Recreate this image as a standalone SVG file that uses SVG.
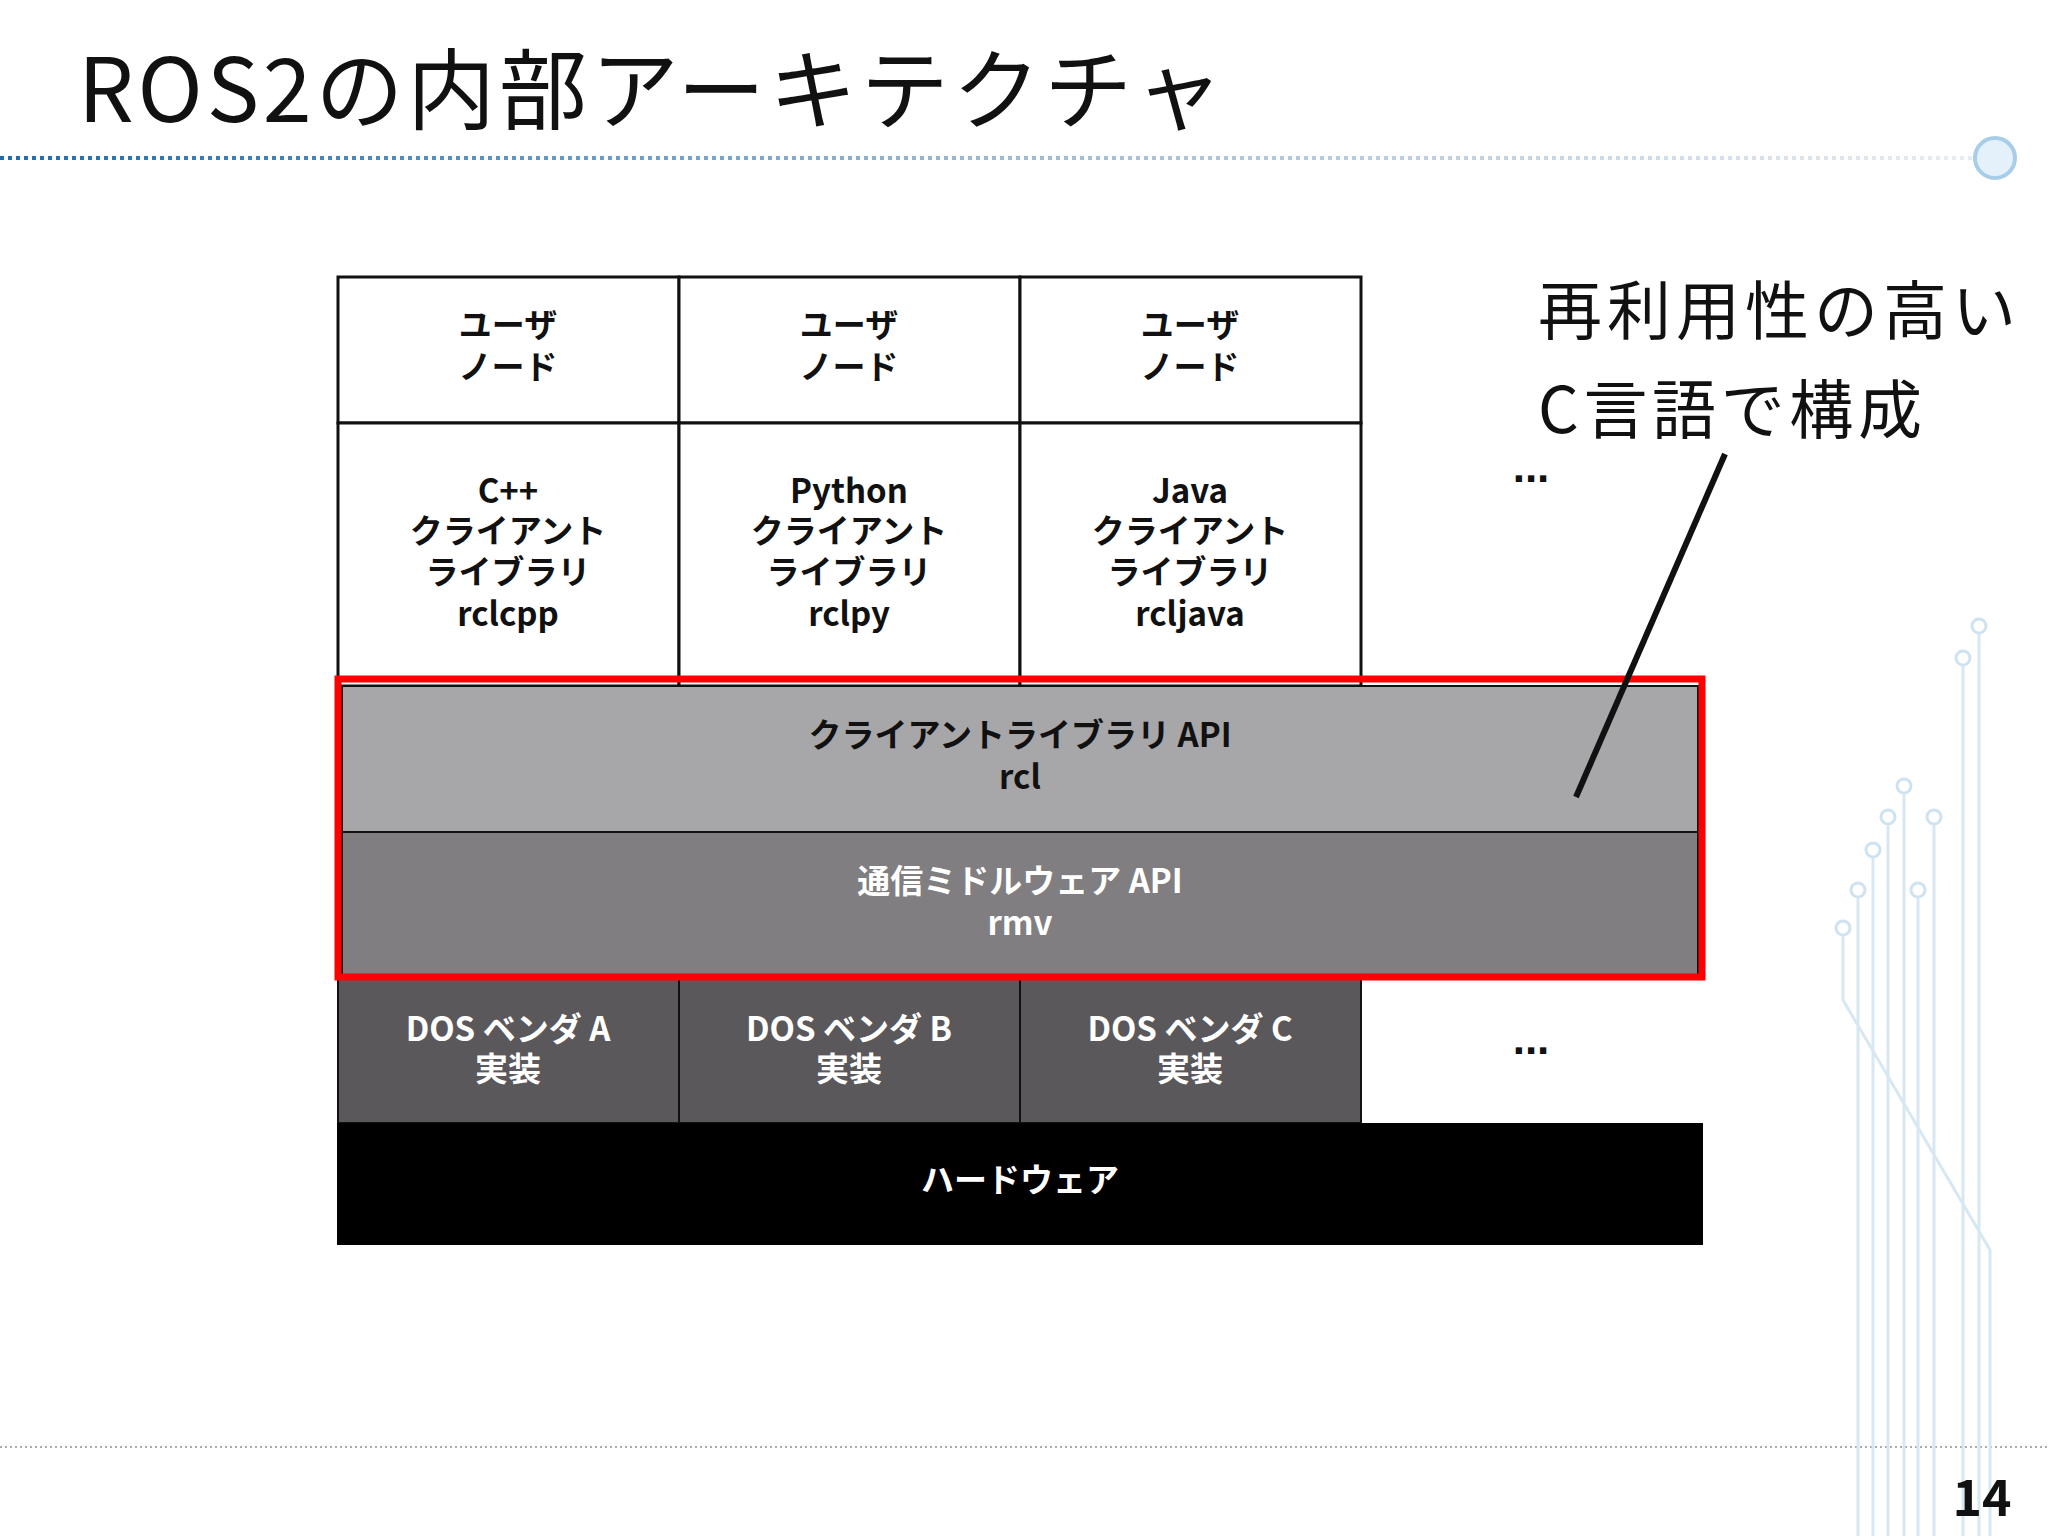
<svg xmlns="http://www.w3.org/2000/svg" width="2048" height="1536" viewBox="0 0 2048 1536">
<defs>
<linearGradient id="dl" gradientUnits="userSpaceOnUse" x1="0" y1="0" x2="1975" y2="0"><stop offset="0" stop-color="#1a6db5"/><stop offset="0.5" stop-color="#9bbad4"/><stop offset="1" stop-color="#e6ecf2"/></linearGradient>
</defs>
<style>
.t{font-family:"Noto Sans CJK JP","Noto Sans",sans-serif;font-weight:bold;font-size:33px;text-anchor:middle}
.w{fill:#fff}.k{fill:#111}
.c{stroke:#d8e8f3;stroke-width:3;fill:none}
.cd{fill:#fff;stroke:#cfe2f0;stroke-width:3}
</style>
<rect width="2048" height="1536" fill="#fff"/>
<text x="78" y="122" font-family="Noto Sans CJK JP,Noto Sans,sans-serif" font-size="88" fill="#111" textLength="1145">ROS2の内部アーキテクチャ</text>
<line x1="0" y1="158" x2="1975" y2="158" stroke="url(#dl)" stroke-width="4" stroke-dasharray="4 4"/>
<circle cx="1995" cy="158" r="20" fill="#e4f1fb" stroke="#a8cde8" stroke-width="4"/>
<line x1="0" y1="1447" x2="2048" y2="1447" stroke="#aaa" stroke-width="2" stroke-dasharray="2 3"/>
<g id="circuit">
<path class="c" d="M1979 626V1536M1963 658V1536M1904 786V1536M1888 817V1536M1873 850V1536M1934 817V1536M1918 890V1536M1858 890V1536M1843 928V1000L1990 1250V1536"/>
<circle class="cd" cx="1979" cy="626" r="7"/><circle class="cd" cx="1963" cy="658" r="7"/><circle class="cd" cx="1904" cy="786" r="7"/><circle class="cd" cx="1888" cy="817" r="7"/><circle class="cd" cx="1934" cy="817" r="7"/><circle class="cd" cx="1873" cy="850" r="7"/><circle class="cd" cx="1918" cy="890" r="7"/><circle class="cd" cx="1858" cy="890" r="7"/><circle class="cd" cx="1843" cy="928" r="7"/>
</g>
<g id="user1"><rect x="338" y="277" width="341" height="146" fill="#fff" stroke="#111" stroke-width="3"/><text class="t k" x="508" y="337">ユーザ</text><text class="t k" x="508" y="379">ノード</text></g>
<g id="user2"><rect x="679" y="277" width="341" height="146" fill="#fff" stroke="#111" stroke-width="3"/><text class="t k" x="849" y="337">ユーザ</text><text class="t k" x="849" y="379">ノード</text></g>
<g id="user3"><rect x="1020" y="277" width="341" height="146" fill="#fff" stroke="#111" stroke-width="3"/><text class="t k" x="1190" y="337">ユーザ</text><text class="t k" x="1190" y="379">ノード</text></g>
<g id="rclcpp"><rect x="338" y="423" width="341" height="263" fill="#fff" stroke="#111" stroke-width="3"/><text class="t k" x="508" y="503">C++</text><text class="t k" x="508" y="543">クライアント</text><text class="t k" x="508" y="584">ライブラリ</text><text class="t k" x="508" y="626">rclcpp</text></g>
<g id="rclpy"><rect x="679" y="423" width="341" height="263" fill="#fff" stroke="#111" stroke-width="3"/><text class="t k" x="849" y="503">Python</text><text class="t k" x="849" y="543">クライアント</text><text class="t k" x="849" y="584">ライブラリ</text><text class="t k" x="849" y="626">rclpy</text></g>
<g id="rcljava"><rect x="1020" y="423" width="341" height="263" fill="#fff" stroke="#111" stroke-width="3"/><text class="t k" x="1190" y="503">Java</text><text class="t k" x="1190" y="543">クライアント</text><text class="t k" x="1190" y="584">ライブラリ</text><text class="t k" x="1190" y="626">rcljava</text></g>
<g id="rcl"><rect x="342" y="686" width="1356" height="146" fill="#a7a6a8" stroke="#111" stroke-width="2"/><text class="t k" x="1020" y="747">クライアントライブラリ API</text><text class="t k" x="1020" y="789">rcl</text></g>
<g id="rmw"><rect x="342" y="832" width="1356" height="143" fill="#807e80" stroke="#111" stroke-width="2"/><text class="t w" x="1020" y="893">通信ミドルウェア API</text><text class="t w" x="1020" y="935">rmv</text></g>
<g id="dosA"><rect x="338" y="977" width="341" height="146" fill="#5a585b" stroke="#111" stroke-width="2"/><text class="t w" x="508" y="1041">DOS ベンダ A</text><text class="t w" x="508" y="1081">実装</text></g>
<g id="dosB"><rect x="679" y="977" width="341" height="146" fill="#5a585b" stroke="#111" stroke-width="2"/><text class="t w" x="849" y="1041">DOS ベンダ B</text><text class="t w" x="849" y="1081">実装</text></g>
<g id="dosC"><rect x="1020" y="977" width="341" height="146" fill="#5a585b" stroke="#111" stroke-width="2"/><text class="t w" x="1190" y="1041">DOS ベンダ C</text><text class="t w" x="1190" y="1081">実装</text></g>
<g id="hw"><rect x="337" y="1123" width="1366" height="122" fill="#000"/><text class="t w" x="1020" y="1192">ハードウェア</text></g>
<g id="highlight"><rect x="338" y="679" width="1364" height="298" fill="none" stroke="#f00" stroke-width="7"/></g>
<text x="1531" y="482" font-family="Liberation Sans,sans-serif" font-weight="bold" font-size="44" text-anchor="middle" fill="#111">...</text>
<text x="1531" y="1054" font-family="Liberation Sans,sans-serif" font-weight="bold" font-size="44" text-anchor="middle" fill="#111">...</text>
<g id="note"><text x="1538" y="334" font-family="Noto Sans CJK JP,Noto Sans,sans-serif" font-size="64" fill="#111" textLength="478">再利用性の高い</text><text x="1538" y="433" font-family="Noto Sans CJK JP,Noto Sans,sans-serif" font-size="64" fill="#111" textLength="384">C言語で構成</text></g>
<g id="connectors"><line x1="1725" y1="454" x2="1576" y2="797" stroke="#111" stroke-width="6"/></g>
<text x="1982" y="1516" font-family="Noto Sans CJK JP,Noto Sans,sans-serif" font-weight="bold" font-size="50" text-anchor="middle" fill="#111">14</text>
</svg>
